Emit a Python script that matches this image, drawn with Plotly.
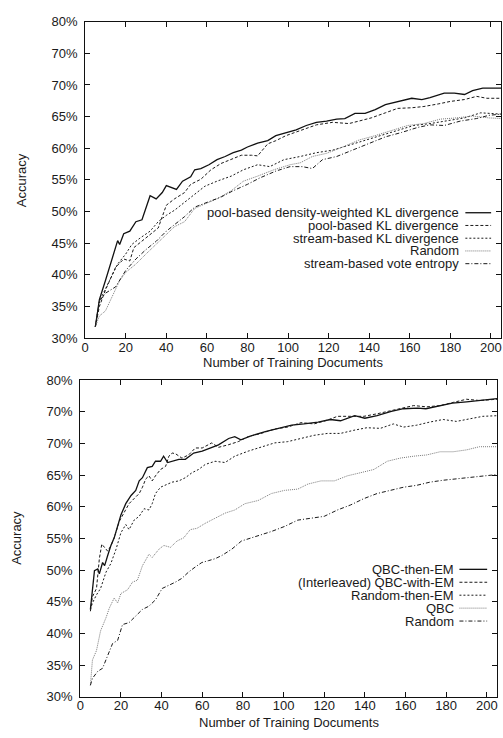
import plotly.graph_objects as go

# ---------------- data: top panel ----------------
dw_x = [5,7,10,14,16,17,19,22,25,28,30,32,35,38,40,43,45,48,52,54,57,61,65,69,73,77,80,85,90,94,99,104,109,114,119,124,128,133,138,143,148,154,161,166,170,177,182,187,191,196,205]
dw_y = [31.8,36.1,39.1,43.3,45.4,44.8,46.5,46.9,48.4,48.7,50.5,52.5,52.0,53.0,54.1,53.8,53.5,54.8,55.5,56.6,56.8,57.4,58.2,58.7,59.3,59.7,60.2,60.8,61.2,62.0,62.5,62.9,63.6,64.1,64.3,64.6,64.7,65.5,65.5,66.1,66.9,67.4,67.9,67.7,68.0,68.7,68.7,68.5,69.1,69.5,69.5]

pkl_x = [5,7,10,15,19,22,24,28,32,36,40,44,49,52,57,62,67,72,77,82,85,90,94,99,106,114,122,130,135,141,148,154,161,167,174,180,187,193,198,205]
pkl_y = [31.8,35.0,37.6,41.2,42.5,42.2,44.3,45.3,46.3,47.4,51.0,52.0,53.0,54.3,55.1,56.6,57.6,58.2,58.9,58.9,58.8,60.7,61.2,62.0,62.8,63.7,64.1,63.9,64.3,64.8,65.6,66.3,66.4,66.6,67.0,67.4,67.7,68.2,67.9,67.9]

skl_x = [5,7,12,16,20,23,27,32,36,40,44,49,54,59,65,72,78,85,91,98,106,114,122,130,138,146,154,162,170,179,187,195,205]
skl_y = [31.8,35.8,39.1,41.7,43.3,44.8,45.8,46.9,48.4,49.4,50.2,51.5,52.8,54.0,54.8,55.6,56.6,57.4,57.1,58.2,58.7,59.3,59.7,60.5,61.3,62.0,62.9,63.6,63.9,64.4,64.8,65.6,65.4]

rnd1_x = [5,7,10,14,17,20,25,30,35,40,44,49,54,59,65,72,78,85,93,101,106,112,119,127,135,143,151,159,167,175,183,191,199,205]
rnd1_y = [31.8,33.5,34.3,37.1,39.1,40.4,41.7,43.3,44.8,46.3,47.6,48.4,50.5,51.2,52.0,53.3,54.8,55.6,56.6,57.4,57.7,58.7,59.2,60.2,61.3,62.0,62.8,63.6,63.9,64.6,64.8,65.1,64.8,64.7]

ve_x = [5,7,10,15,20,25,30,35,40,44,49,54,61,67,73,80,86,94,101,107,112,117,124,132,140,148,156,164,170,177,185,193,199,205]
ve_y = [31.8,35.8,37.1,38.1,40.7,42.5,44.0,45.3,46.9,47.9,49.2,50.7,51.6,52.3,53.3,54.3,55.3,56.4,57.1,57.1,56.8,58.2,58.7,59.7,60.7,61.8,62.5,63.3,63.7,63.6,64.3,64.7,65.2,65.4]

# ---------------- data: bottom panel ----------------
qte_x = [5,6,7,8.6,9.4,11,12,13.5,15,16.7,18.4,20,22.4,25,27.3,29,30.6,33,35.4,37,39.5,41,43,45,48.5,51.7,55.8,60,64,68,73,76,79,84,91,97,104,110,117,123,128,135,140,146,153,159,166,170,177,183,190,196,201,205]
qte_y = [43.8,47.1,49.9,50.2,49.4,51.2,50.7,52.3,53.8,55.1,56.9,58.7,60.5,61.8,62.6,64.1,64.6,66.2,66.4,67.2,67.2,68.0,67.0,67.2,67.5,67.5,68.5,68.8,69.3,69.8,70.8,71.1,70.6,71.2,71.9,72.4,72.9,73.1,73.4,73.8,73.6,74.4,74.0,74.4,75.1,75.5,75.6,75.5,76.0,76.4,76.6,76.8,76.9,77.1]

qwe_x = [5,6,8,9.4,10.6,12,13.5,15,16.7,19.2,21.6,24,26.5,29,30.6,32.2,33.8,35.4,37,39.5,42,43.6,45.2,46.8,50,53.3,56.6,60,64.7,68,72.8,77.7,82.6,89,95.6,102,108.6,115,121.6,126.5,133,139.5,146,152.5,159,164,170.4,177,183.4,190,196.4,201.3,205]
qwe_y = [43.5,45.8,47.1,51.8,54.1,53.6,53.0,53.8,55.1,57.7,59.0,60.5,61.3,62.1,63.1,64.4,64.9,64.1,64.9,65.9,66.4,68.0,68.5,68.4,67.7,68.2,69.3,69.3,70.1,69.4,69.8,70.3,71.1,71.6,72.3,72.6,73.3,73.1,73.7,74.3,74.3,74.3,74.7,75.2,75.6,76.0,75.8,76.0,76.5,77.0,76.8,76.9,77.0]

rte_x = [5,6,8,10,12.7,15,17.6,20,22.4,24,26.5,29,31.4,33.8,35.4,37,39.5,42,45.2,48.5,51.7,55,58.2,61.5,66.3,71.2,76,82.6,89,95.6,102,108.6,115,121.6,128,134.6,141,147.6,154,159,165.5,172,178.5,185,191.5,198,205]
rte_y = [43.8,44.8,46.1,47.1,49.7,51.0,53.3,55.9,57.2,56.4,57.9,58.5,59.7,59.5,60.5,62.1,63.1,63.4,63.9,64.1,64.6,65.4,65.9,66.7,67.2,67.0,68.0,68.8,69.5,70.1,70.3,70.8,71.3,71.6,71.6,72.1,72.5,72.4,73.1,72.6,72.9,73.4,73.8,73.5,73.9,74.3,74.4]

qbc_x = [5,6,8,10,12.7,14.3,16.7,18.4,20,23.3,25.7,28.1,30.6,33.8,35.4,38.7,41.1,44.4,47.6,50.9,54.1,57.4,61.5,66.3,71.2,76,81,87.5,94,100.5,107,112,118.4,125,131.4,138,144.4,151,157.4,164,170.4,177,183.4,190,196.4,205]
qbc_y = [31.8,35.8,37.3,40.4,42.5,44.0,45.6,44.8,46.3,46.9,48.1,48.4,50.7,52.5,52.0,53.3,53.9,53.6,54.6,55.1,56.4,56.6,57.4,58.2,59.0,59.5,60.5,61.0,62.1,62.6,62.8,63.6,64.1,64.1,64.9,65.4,65.9,67.2,67.7,68.0,68.2,68.7,68.7,69.0,69.5,69.5]

rnd2_x = [5,6,8.6,11,13.5,15.9,18.4,20.8,24,27.3,30.6,33.8,37,40.3,43.6,46.8,50,53.3,56.6,59.8,63.1,66.3,69.6,74.5,79.3,84.2,89,94,100.5,107,113.5,120,126.5,133,139.5,146,152.5,159,165.5,172,178.5,185,191.5,198,205]
rnd2_y = [31.8,32.9,34.0,34.5,36.5,38.4,38.9,41.4,41.7,42.7,43.8,44.3,45.3,47.1,47.6,48.1,48.7,49.7,50.5,51.2,51.5,51.8,52.3,53.3,54.6,55.1,55.6,56.1,56.9,57.9,58.2,58.5,59.5,60.3,61.3,62.1,62.6,63.1,63.4,63.9,64.2,64.4,64.7,64.9,65.1]

x_ticks = [0, 20, 40, 60, 80, 100, 120, 140, 160, 180, 200]
y_ticks = [30, 35, 40, 45, 50, 55, 60, 65, 70, 75, 80]
y_tick_text = ["30%", "35%", "40%", "45%", "50%", "55%", "60%", "65%", "70%", "70%", "80%"]

top_names = ["pool-based density-weighted KL divergence", "pool-based KL divergence",
             "stream-based KL divergence", "Random", "stream-based vote entropy"]
bot_names = ["QBC-then-EM", "(Interleaved) QBC-with-EM", "Random-then-EM", "QBC", "Random"]

# ---------------- styles ----------------
W, H = 503, 738
FONT = "Liberation Sans, Arial, Helvetica, sans-serif"
TXT = "#1a1a1a"
styles = [
    dict(color="#111111", width=1.3, dash="solid"),
    dict(color="#1a1a1a", width=1.0, dash="3px,2px"),
    dict(color="#1a1a1a", width=1.0, dash="2px,2px"),
    dict(color="#7a7a7a", width=1.0, dash="1px,1px"),
    dict(color="#1a1a1a", width=1.0, dash="4px,2px,1px,2px"),
]

def px_x(p):
    return p / W

def px_y(p):
    return 1 - p / H

fig = go.Figure()

top_series = [(dw_x, dw_y), (pkl_x, pkl_y), (skl_x, skl_y), (rnd1_x, rnd1_y), (ve_x, ve_y)]
bot_series = [(qte_x, qte_y), (qwe_x, qwe_y), (rte_x, rte_y), (qbc_x, qbc_y), (rnd2_x, rnd2_y)]

for (xs, ys), name, st in zip(top_series, top_names, styles):
    fig.add_trace(go.Scatter(x=xs, y=ys, mode="lines", name=name, line=st,
                             xaxis="x", yaxis="y", showlegend=False, hoverinfo="skip"))
for (xs, ys), name, st in zip(bot_series, bot_names, styles):
    fig.add_trace(go.Scatter(x=xs, y=ys, mode="lines", name=name, line=st,
                             xaxis="x2", yaxis="y2", showlegend=False, hoverinfo="skip"))

axis_common = dict(showline=True, linecolor="#111", linewidth=1, mirror="allticks",
                   ticks="inside", ticklen=5, tickwidth=1, tickcolor="#111",
                   showgrid=False, zeroline=False,
                   tickfont=dict(family=FONT, size=13, color=TXT))

xa = dict(axis_common, range=[0, 205], tickvals=x_ticks, ticklabelstandoff=-3)
ya = dict(axis_common, range=[30, 80], tickvals=y_ticks, ticktext=y_tick_text, ticklabelstandoff=4)

# panel geometry (pixels)
top_box = (82, 502, 15, 338)
bot_box = (77, 498, 381, 704)

fig.update_layout(
    width=W, height=H, margin=dict(l=0, r=0, t=0, b=0),
    paper_bgcolor="white", plot_bgcolor="white", showlegend=False,
    xaxis=dict(xa, domain=[px_x(top_box[0]), px_x(top_box[1])], anchor="y"),
    yaxis=dict(ya, domain=[px_y(top_box[3]), px_y(top_box[2])], anchor="x"),
    xaxis2=dict(xa, domain=[px_x(bot_box[0]), px_x(bot_box[1])], anchor="y2"),
    yaxis2=dict(ya, domain=[px_y(bot_box[3]), px_y(bot_box[2])], anchor="x2"),
)

annotations = []
shapes = []

def add_legend(names, text_right, s0, s1, y0, dy):
    for i, (name, st) in enumerate(zip(names, styles)):
        yy = y0 + dy * i
        annotations.append(dict(text=name, x=px_x(text_right), y=px_y(yy), xref="paper", yref="paper",
                                xanchor="right", yanchor="middle", showarrow=False,
                                font=dict(family=FONT, size=13, color=TXT)))
        shapes.append(dict(type="line", xref="paper", yref="paper",
                           x0=px_x(s0), x1=px_x(s1), y0=px_y(yy), y1=px_y(yy),
                           line=dict(color=st["color"], width=st["width"], dash=st["dash"])))

add_legend(top_names, 462, 466, 492, 210, 13)
add_legend(bot_names, 457, 460, 488, 574, 13.2)

for (xc, yc) in [(18, 177), (13, 542)]:
    annotations.append(dict(text="Accuracy", x=px_x(xc), y=px_y(yc), xref="paper", yref="paper",
                            xanchor="center", yanchor="middle", textangle=-90, showarrow=False,
                            font=dict(family=FONT, size=13, color=TXT)))
for (xc, yc) in [(292, 363), (287.5, 730)]:
    annotations.append(dict(text="Number of Training Documents", x=px_x(xc), y=px_y(yc),
                            xref="paper", yref="paper", xanchor="center", yanchor="middle",
                            showarrow=False, font=dict(family=FONT, size=13, color=TXT)))

fig.update_layout(annotations=annotations, shapes=shapes)

fig.write_html("out.html", config={"displayModeBar": False, "staticPlot": True},
               post_script="document.body.style.margin='0';document.body.style.overflow='hidden';")
